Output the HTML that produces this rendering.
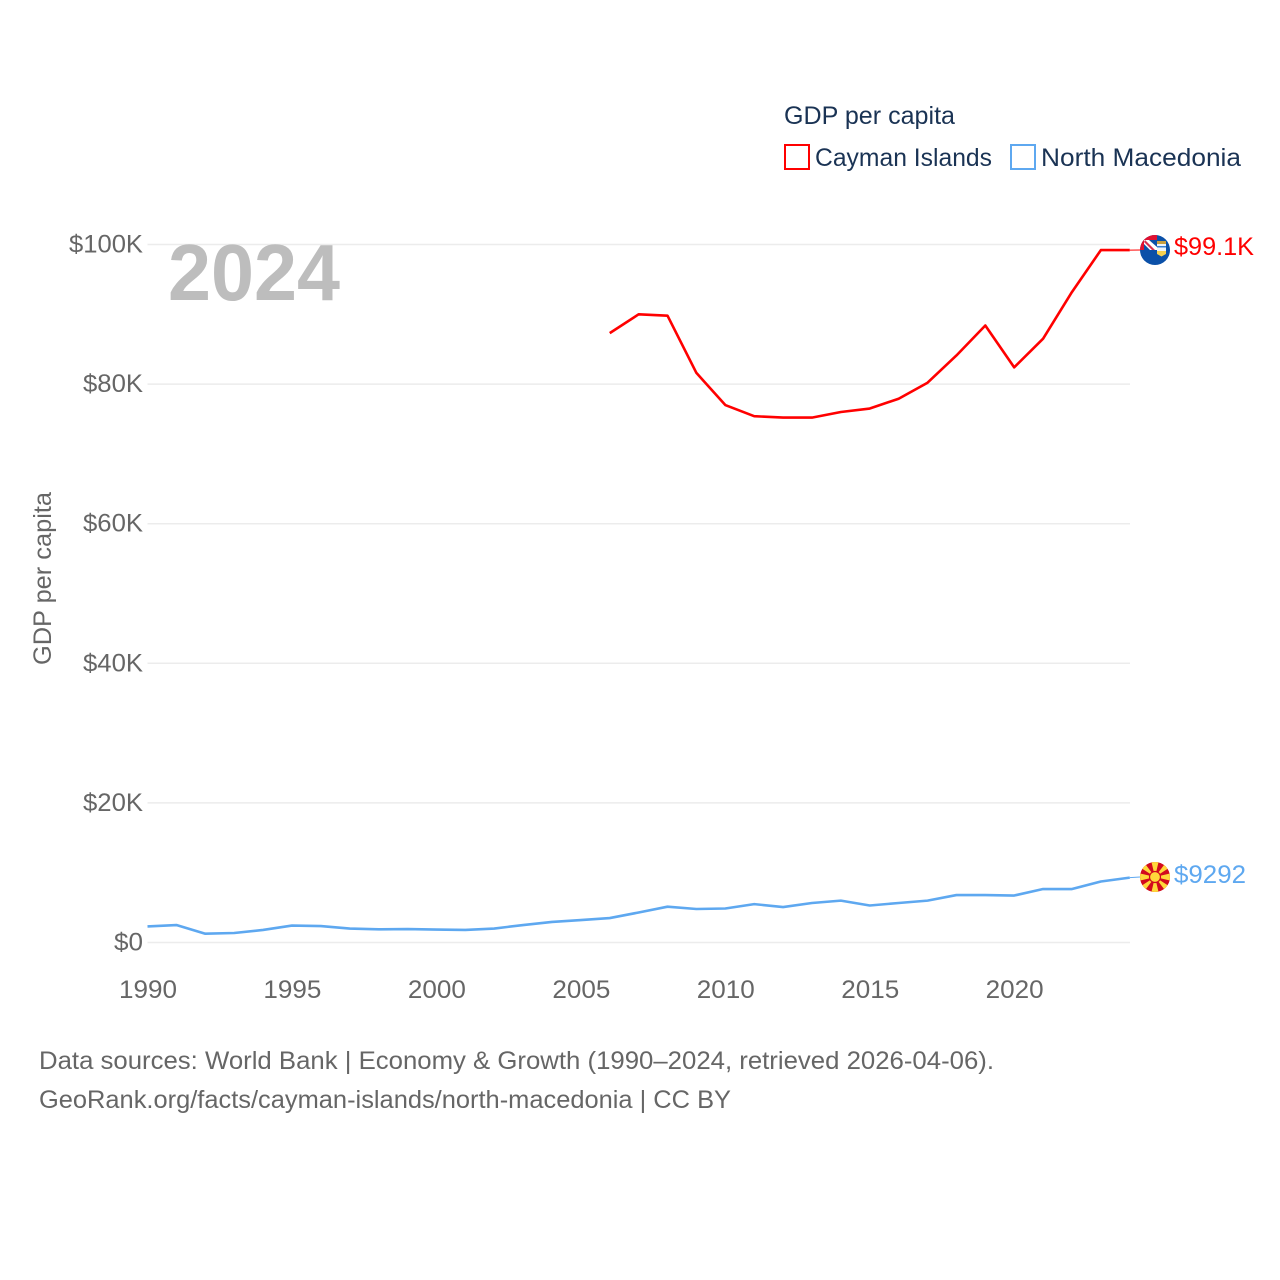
<!DOCTYPE html>
<html lang="en">
<head>
<meta charset="utf-8">
<title>GDP per capita: Cayman Islands and North Macedonia</title>
<style>
html,body{margin:0;padding:0;background:#fff;}
svg{display:block;font-family:"Liberation Sans",sans-serif;}
</style>
</head>
<body>
<svg id="chart" width="1280" height="1280" viewBox="0 0 1280 1280" xmlns="http://www.w3.org/2000/svg">
  <defs>
    <clipPath id="clip-ky"><circle cx="1155" cy="250" r="15"/></clipPath>
    <clipPath id="clip-mk"><circle cx="1155" cy="877" r="15"/></clipPath>
  </defs>
  <rect width="1280" height="1280" fill="#fff"/>
  <g id="grid"></g>
  <g id="yticks"></g>
  <g id="xticks"></g>

  <text x="168" y="300" font-size="80" font-weight="700" fill="#bdbdbd" textLength="172" lengthAdjust="spacingAndGlyphs">2024</text>

  <text transform="translate(51,665) rotate(-90)" font-size="25" fill="#666" textLength="173" lengthAdjust="spacingAndGlyphs">GDP per capita</text>

  <g id="series"></g>

  <g clip-path="url(#clip-ky)">
    <rect x="1140" y="235" width="30" height="30" fill="#0b50a8"/>
    <rect x="1140" y="235" width="17" height="15" fill="#e01030"/>
    <rect x="1144" y="240" width="13" height="10" fill="#fff"/>
    <path d="M1149 240h8v7z" fill="#0b50a8"/>
    <path d="M1144 244l6 6h-6z" fill="#0b50a8"/>
    <path d="M1145 240l10 10h-3l-8-8z" fill="#d83050"/>
    <rect x="1157" y="241" width="9" height="3" fill="#c8a040"/>
    <rect x="1157" y="244" width="9" height="7" fill="#eef4fb"/>
    <rect x="1157" y="246" width="9" height="1.5" fill="#3a80d0"/>
    <path d="M1157 251h9v3l-4.500 2.500l-4.500-2.500z" fill="#f5d050"/>
  </g>
  <g id="flag-mk" clip-path="url(#clip-mk)">
    <rect x="1140" y="862" width="30" height="30" fill="#d20a1e"/>
    <path fill="#ffd83a" d="M1155 877L1151 860h8zM1155 877L1151 894h8zM1155 877L1138 873v8zM1155 877L1172 873v8zM1155 877L1143 861l-5 5zM1155 877L1167 861l5 5zM1155 877L1143 893l-5-5zM1155 877L1167 893l5-5z"/>
    <circle cx="1155" cy="877" r="5.500" fill="#ffd83a" stroke="#d20a1e" stroke-width="1.200"/>
  </g>

  <text id="label-ky" x="1174" y="255" font-size="25" fill="#ff0000" textLength="80" lengthAdjust="spacingAndGlyphs">$99.1K</text>
  <text id="label-mk" x="1174" y="883" font-size="25" fill="#5ea8f0" textLength="72" lengthAdjust="spacingAndGlyphs">$9292</text>

  <g>
    <text x="784" y="124" font-size="25" fill="#1a3354" textLength="171" lengthAdjust="spacingAndGlyphs">GDP per capita</text>
    <g>
      <rect x="785" y="145" width="24" height="24" fill="#fff" stroke="#ff0000" stroke-width="2"/>
      <text x="815" y="166" font-size="25" fill="#1a3354" textLength="177" lengthAdjust="spacingAndGlyphs">Cayman Islands</text>
    </g>
    <g>
      <rect x="1011" y="145" width="24" height="24" fill="#fff" stroke="#5ea8f0" stroke-width="2"/>
      <text x="1041" y="166" font-size="25" fill="#1a3354" textLength="200" lengthAdjust="spacingAndGlyphs">North Macedonia</text>
    </g>
  </g>

  <text x="39" y="1069" font-size="25" fill="#666" textLength="955" lengthAdjust="spacingAndGlyphs">Data sources: World Bank | Economy &amp; Growth (1990–2024, retrieved 2026-04-06).</text>
  <text x="39" y="1108" font-size="25" fill="#666" textLength="692" lengthAdjust="spacingAndGlyphs">GeoRank.org/facts/cayman-islands/north-macedonia | CC BY</text>
</svg>
<script>
const yTickValues = [0, 20, 40, 60, 80, 100];
const yTickLabels = ["$0", "$20K", "$40K", "$60K", "$80K", "$100K"];
const xTickYears = [1990, 1995, 2000, 2005, 2010, 2015, 2020];
const caymanYears = [2006,2007,2008,2009,2010,2011,2012,2013,2014,2015,2016,2017,2018,2019,2020,2021,2022,2023,2024];
const caymanValues = [87.3,90.0,89.8,81.6,77.0,75.4,75.2,75.2,76.0,76.5,77.9,80.2,84.1,88.4,82.4,86.5,93.2,99.2,99.2];
const macedoniaYears = [1990,1991,1992,1993,1994,1995,1996,1997,1998,1999,2000,2001,2002,2003,2004,2005,2006,2007,2008,2009,2010,2011,2012,2013,2014,2015,2016,2017,2018,2019,2020,2021,2022,2023,2024];
const macedoniaValues = [2.3,2.5,1.26,1.36,1.8,2.43,2.36,2.0,1.89,1.93,1.86,1.8,2.0,2.5,2.94,3.22,3.5,4.3,5.13,4.8,4.87,5.5,5.08,5.66,6.0,5.3,5.66,6.0,6.8,6.8,6.73,7.66,7.66,8.74,9.292];

const NS = "http://www.w3.org/2000/svg";
const xScale = y => 147.5 + (y - 1990) * 28.89;
const yScale = v => 942.5 - v * 6.98;
const tickLabelWidths = {"$0": 29, "$20K": 60, "$40K": 60, "$60K": 60, "$80K": 60, "$100K": 74};

const grid = document.getElementById('grid');
const yticks = document.getElementById('yticks');
const xticks = document.getElementById('xticks');
const seriesGroup = document.getElementById('series');

yTickValues.forEach((v, i) => {
  const line = document.createElementNS(NS, 'line');
  
  
  line.setAttribute('x1', 147.5);
  line.setAttribute('x2', 1130);
  line.setAttribute('y1', yScale(v));
  line.setAttribute('y2', yScale(v));
  line.setAttribute('stroke', '#ececec');
  line.setAttribute('stroke-width', '1.5');
  grid.appendChild(line);

  const t = document.createElementNS(NS, 'text');
  
  
  t.setAttribute('x', 143);
  t.setAttribute('y', yScale(v) + 8);
  t.setAttribute('text-anchor', 'end');
  t.setAttribute('font-size', '25');
  t.setAttribute('fill', '#666');
  t.setAttribute('textLength', tickLabelWidths[yTickLabels[i]]);
  t.setAttribute('lengthAdjust', 'spacingAndGlyphs');
  t.textContent = yTickLabels[i];
  yticks.appendChild(t);
});

xTickYears.forEach(y => {
  const t = document.createElementNS(NS, 'text');
  
  
  t.setAttribute('x', xScale(y) + 0.5);
  t.setAttribute('y', 998);
  t.setAttribute('text-anchor', 'middle');
  t.setAttribute('font-size', '25');
  t.setAttribute('fill', '#666');
  t.setAttribute('textLength', '58');
  t.setAttribute('lengthAdjust', 'spacingAndGlyphs');
  t.textContent = y;
  xticks.appendChild(t);
});

function drawSeries(years, values, color, flagY) {
  const last = values.length - 1;
  const pts = years.map((y, i) => xScale(y).toFixed(2) + ',' + yScale(values[i]).toFixed(2)).join(' ');
  const line = document.createElementNS(NS, 'polyline');
  
  
  line.setAttribute('points', pts);
  line.setAttribute('fill', 'none');
  line.setAttribute('stroke', color);
  line.setAttribute('stroke-width', '2.6');
  line.setAttribute('stroke-linejoin', 'round');
  seriesGroup.appendChild(line);

  const leader = document.createElementNS(NS, 'line');
  
  
  leader.setAttribute('x1', xScale(years[last]));
  leader.setAttribute('y1', yScale(values[last]));
  leader.setAttribute('x2', 1140);
  leader.setAttribute('y2', flagY);
  leader.setAttribute('stroke', color);
  leader.setAttribute('stroke-width', '1');
  seriesGroup.appendChild(leader);
}
drawSeries(caymanYears, caymanValues, '#ff0000', 250);
drawSeries(macedoniaYears, macedoniaValues, '#5ea8f0', 877);
</script>
</body>
</html>
